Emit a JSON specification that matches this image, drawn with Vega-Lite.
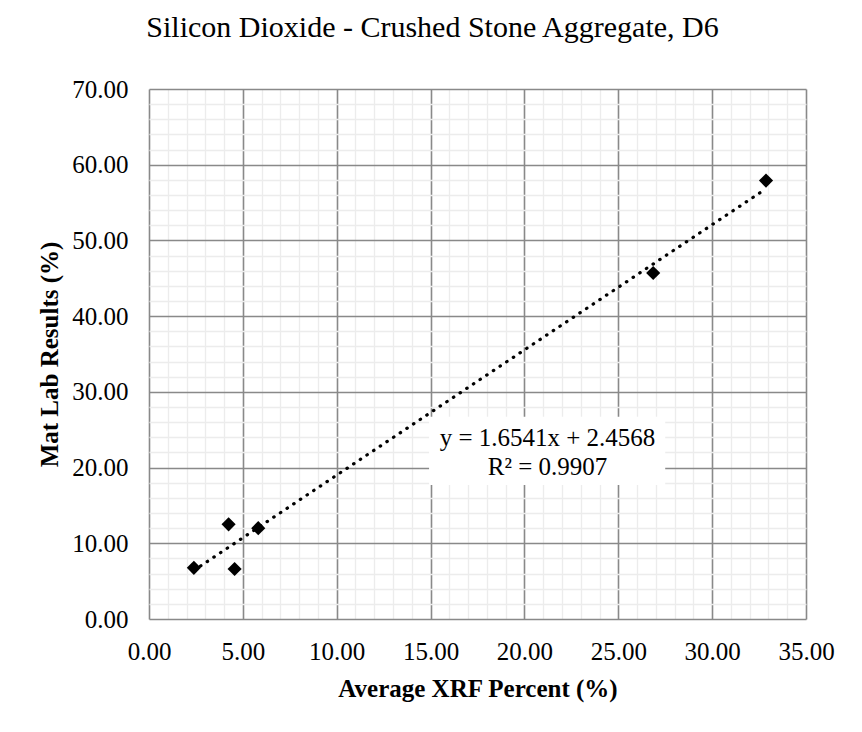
{
  "$schema": "https://vega.github.io/schema/vega-lite/v6.json",
  "autosize": {"type": "none"},
  "padding": {"left": 149, "top": 89, "right": 56, "bottom": 113},
  "width": 657,
  "height": 530,
  "background": "white",
  "config": {
    "view": {"stroke": null},
    "font": "Liberation Serif"
  },
  "title": {
    "text": "Silicon Dioxide - Crushed Stone Aggregate, D6",
    "font": "Liberation Serif",
    "fontSize": 30,
    "fontWeight": "normal",
    "color": "#000000",
    "anchor": "middle",
    "frame": "group",
    "baseline": "alphabetic",
    "offset": 10,
    "dx": -45
  },
  "datasets": {
    "points": [
      {"xrf": 2.39, "lab": 6.76},
      {"xrf": 4.24, "lab": 12.5},
      {"xrf": 4.56, "lab": 6.6},
      {"xrf": 5.82, "lab": 12.0},
      {"xrf": 26.86, "lab": 45.7},
      {"xrf": 32.87, "lab": 57.9}
    ],
    "trend": [
      {"xrf": 2.39, "lab": 6.41},
      {"xrf": 32.87, "lab": 56.83}
    ],
    "annotation": [
      {"text": "y = 1.6541x + 2.4568", "xrf": 21.23, "lab": 22.85},
      {"text": "R² = 0.9907", "xrf": 21.23, "lab": 19.02}
    ]
  },
  "layer": [
    {
      "data": {"name": "points"},
      "mark": {"type": "point", "shape": "diamond", "filled": true, "color": "#000000", "size": 200, "opacity": 1},
      "encoding": {
        "x": {
          "field": "xrf", "type": "quantitative",
          "scale": {"domain": [0, 35], "nice": false, "zero": false},
          "axis": {
            "values": [0,1,2,3,4,5,6,7,8,9,10,11,12,13,14,15,16,17,18,19,20,21,22,23,24,25,26,27,28,29,30,31,32,33,34,35],
            "tickCount": 100,
            "labelExpr": "datum.value % 5 === 0 ? format(datum.value, '.2f') : ''",
            "grid": true,
            "gridColor": {"condition": {"test": "datum.value % 5 === 0", "value": "#898989"}, "value": "#ececec"},
            "gridWidth": {"condition": {"test": "datum.value % 5 === 0", "value": 1.6}, "value": 1.3},
            "gridOpacity": 1,
            "domain": false,
            "ticks": false,
            "labelFont": "Liberation Serif",
            "labelFontSize": 25,
            "labelColor": "#000000",
            "labelPadding": 20,
            "labelFlush": false,
            "labelOverlap": false,
            "title": "Average XRF Percent (%)",
            "titleFont": "Liberation Serif",
            "titleFontSize": 25,
            "titleFontWeight": "bold",
            "titleColor": "#000000",
            "titlePadding": 12
          }
        },
        "y": {
          "field": "lab", "type": "quantitative",
          "scale": {"domain": [0, 70], "nice": false, "zero": false},
          "axis": {
            "values": [0,2,4,6,8,10,12,14,16,18,20,22,24,26,28,30,32,34,36,38,40,42,44,46,48,50,52,54,56,58,60,62,64,66,68,70],
            "tickCount": 100,
            "labelExpr": "datum.value % 10 === 0 ? format(datum.value, '.2f') : ''",
            "grid": true,
            "gridColor": {"condition": {"test": "datum.value % 10 === 0", "value": "#898989"}, "value": "#ececec"},
            "gridWidth": {"condition": {"test": "datum.value % 10 === 0", "value": 1.6}, "value": 1.3},
            "gridOpacity": 1,
            "domain": false,
            "ticks": false,
            "labelFont": "Liberation Serif",
            "labelFontSize": 25,
            "labelColor": "#000000",
            "labelPadding": 21,
            "labelFlush": false,
            "labelOverlap": false,
            "title": "Mat Lab Results (%)",
            "titleFont": "Liberation Serif",
            "titleFontSize": 25,
            "titleFontWeight": "bold",
            "titleColor": "#000000",
            "titlePadding": 9
          }
        }
      }
    },
    {
      "data": {"name": "trend"},
      "mark": {"type": "line", "color": "#000000", "strokeWidth": 3.2, "strokeDash": [0.5, 7.5], "strokeCap": "round"},
      "encoding": {
        "x": {"field": "xrf", "type": "quantitative"},
        "y": {"field": "lab", "type": "quantitative"}
      }
    },
    {
      "data": {"values": [{}]},
      "mark": {"type": "rect", "color": "#ffffff", "opacity": 1},
      "encoding": {
        "x": {"datum": 14.92, "type": "quantitative"},
        "x2": {"datum": 27.5},
        "y": {"datum": 17.7, "type": "quantitative"},
        "y2": {"datum": 26.7}
      }
    },
    {
      "data": {"name": "annotation"},
      "mark": {"type": "text", "font": "Liberation Serif", "fontSize": 25, "color": "#000000", "align": "center", "baseline": "alphabetic"},
      "encoding": {
        "x": {"field": "xrf", "type": "quantitative"},
        "y": {"field": "lab", "type": "quantitative"},
        "text": {"field": "text"}
      }
    }
  ]
}
